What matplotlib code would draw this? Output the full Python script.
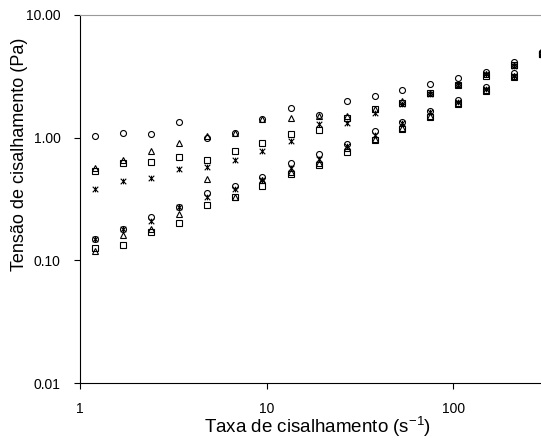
import matplotlib
matplotlib.use('Agg')
import matplotlib.pyplot as plt
from matplotlib.path import Path
from matplotlib.ticker import FixedLocator, NullLocator

plt.rcParams['font.family'] = ['Liberation Sans', 'DejaVu Sans']
plt.rcParams['mathtext.fontset'] = 'custom'
plt.rcParams['mathtext.rm'] = 'Liberation Sans'
plt.rcParams['mathtext.default'] = 'regular'

# taxa de cisalhamento (1/s)
shear_rate = [1.2, 1.7, 2.4, 3.4, 4.8, 6.8, 9.5, 13.5, 19.0, 27, 38, 53, 75, 106, 150, 212, 298]

# tensão de cisalhamento (Pa), grupo superior
upper_circle = [1.02, 1.08, 1.06, 1.33, 1.00, 1.08, 1.42, 1.75, 1.52, 1.97, 2.16, 2.46, 2.75, 3.08, 3.45, 4.1, 5.0]
upper_triangle = [0.57, 0.66, 0.77, 0.91, 1.02, 1.08, 1.42, 1.43, 1.50, 1.50, 1.72, 2.0, 2.3, 2.75, 3.3, 3.9, 4.9]
upper_square = [0.53, 0.62, 0.63, 0.70, 0.66, 0.77, 0.91, 1.06, 1.16, 1.45, 1.72, 1.9, 2.3, 2.7, 3.2, 3.9, 4.8]
upper_x = [0.38, 0.44, 0.47, 0.55, 0.58, 0.65, 0.78, 0.93, 1.28, 1.32, 1.57, 1.86, 2.28, 2.7, 3.3, 3.85, 4.8]

# grupo inferior
lower_circle = [0.15, 0.18, 0.225, 0.27, 0.35, 0.40, 0.48, 0.62, 0.74, 0.88, 1.14, 1.35, 1.63, 2.04, 2.6, 3.35, 4.9]
lower_triangle = [0.118, 0.16, 0.18, 0.24, 0.46, 0.33, 0.45, 0.52, 0.62, 0.82, 0.98, 1.2, 1.5, 1.9, 2.45, 3.15, 4.8]
lower_square = [0.125, 0.134, 0.17, 0.20, 0.28, 0.33, 0.40, 0.50, 0.60, 0.76, 0.95, 1.18, 1.48, 1.89, 2.4, 3.1, 4.8]
lower_x = [0.15, 0.18, 0.21, 0.27, 0.33, 0.38, 0.45, 0.57, 0.67, 0.86, 1.04, 1.32, 1.6, 1.95, 2.5, 3.2, 4.8]

# marcador tipo excel: x com traço vertical
star_marker = Path([(-1, -1), (1, 1), (-1, 1), (1, -1), (0, -1), (0, 1)],
                   [Path.MOVETO, Path.LINETO, Path.MOVETO, Path.LINETO, Path.MOVETO, Path.LINETO])

fig = plt.figure(figsize=(5.41, 4.43), dpi=100)
ax = fig.add_axes([0.148, 0.1354, 0.854, 0.8312])

open_kw = dict(linestyle='none', markerfacecolor='none', markeredgecolor='black', markeredgewidth=0.8)
for y in (upper_circle, lower_circle):
    ax.plot(shear_rate, y, marker='o', markersize=4.3, **open_kw)
for y in (upper_triangle, lower_triangle):
    ax.plot(shear_rate, y, marker='^', markersize=4.3, **open_kw)
for y in (upper_square, lower_square):
    ax.plot(shear_rate, y, marker='s', markersize=4.0, **open_kw)
for y in (upper_x, lower_x):
    ax.plot(shear_rate, y, marker=star_marker, markersize=4.0, **open_kw)

ax.set_xscale('log')
ax.set_yscale('log')
ax.set_xlim(1, 300)
ax.set_ylim(0.01, 10)

ax.xaxis.set_major_locator(FixedLocator([1, 10, 100]))
ax.xaxis.set_minor_locator(NullLocator())
ax.set_xticklabels(['1', '10', '100'])
ax.yaxis.set_major_locator(FixedLocator([0.01, 0.1, 1, 10]))
ax.yaxis.set_minor_locator(NullLocator())
ax.set_yticklabels(['0.01', '0.10', '1.00', '10.00'])
ax.tick_params(axis='both', direction='out', length=4, width=0.8, labelsize=10, pad=10)

for side in ('left', 'bottom'):
    ax.spines[side].set_color('black')
    ax.spines[side].set_linewidth(0.8)
ax.spines['top'].set_color('#999999')
ax.spines['top'].set_linewidth(0.8)
ax.spines['right'].set_visible(False)

ax.set_xlabel('Taxa de cisalhamento (s$^{-1}$)', fontsize=13.5)
ax.xaxis.set_label_coords(0.515, -0.087)
ax.set_ylabel('Tensão de cisalhamento (Pa)', fontsize=13)
ax.yaxis.set_label_coords(-0.113, 0.62)

fig.savefig('out.png', dpi=100, facecolor='white')
